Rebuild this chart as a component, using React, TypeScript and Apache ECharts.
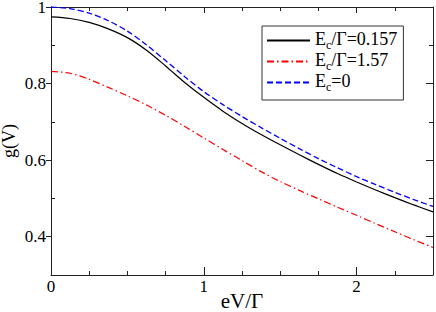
import React, { useEffect, useRef } from "react";
import * as echarts from "echarts";

// eV/Γ sample points
const eV = [0, 0.125, 0.25, 0.375, 0.5, 0.625, 0.75, 0.875, 1.0, 1.125, 1.25, 1.375, 1.5, 1.625, 1.75, 1.875, 2.0, 2.125, 2.25, 2.375, 2.5];
// g(V) for Ec/Γ = 0.157 (black solid)
const gEc0157 = [0.974, 0.970, 0.960, 0.943, 0.920, 0.887, 0.846, 0.803, 0.764, 0.728, 0.696, 0.667, 0.640, 0.614, 0.589, 0.565, 0.543, 0.522, 0.502, 0.483, 0.465];
// g(V) for Ec/Γ = 1.57 (red dash-dot)
const gEc157 = [0.832, 0.827, 0.811, 0.790, 0.768, 0.744, 0.717, 0.688, 0.658, 0.628, 0.599, 0.570, 0.544, 0.521, 0.499, 0.477, 0.456, 0.434, 0.413, 0.392, 0.372];
// g(V) for Ec = 0 (blue dashed)
const gEc0 = [1.000, 0.996, 0.984, 0.964, 0.937, 0.901, 0.860, 0.818, 0.779, 0.745, 0.714, 0.685, 0.657, 0.630, 0.604, 0.580, 0.557, 0.536, 0.516, 0.497, 0.479];

const seriesNames = ["Ec/Γ=0.157", "Ec/Γ=1.57", "Ec=0"];
const legendParts = [
  ["E", "c", "/Γ=0.157"],
  ["E", "c", "/Γ=1.57"],
  ["E", "c", "=0"],
];

const xLabelValues = [0, 1, 2];
const xMinorValues = [0.25, 0.5, 0.75, 1.25, 1.5, 1.75, 2.25];
const yLabelValues = [0.4, 0.6, 0.8, 1];
const yMinorValues = [0.5, 0.7, 0.9];

const FONT = "Liberation Serif";
const AXIS_COLOR = "#222";

export default function App() {
  const ref = useRef<HTMLDivElement>(null);

  useEffect(() => {
    if (!ref.current) return;
    const chart = echarts.init(ref.current, undefined, { renderer: "svg" });

    const lineStyle = { color: AXIS_COLOR, width: 1 };
    const xBase = {
      type: "value" as const,
      min: 0,
      max: 2.5,
      splitLine: { show: false },
    };
    const yBase = {
      type: "value" as const,
      min: 0.3,
      max: 1,
      splitLine: { show: false },
    };

    const mk = (vals: number[]) => eV.map((x, i) => [x, vals[i]]);

    chart.setOption({
      animation: false,
      backgroundColor: "#fff",
      grid: {
        left: 51,
        top: 7,
        right: 3,
        bottom: 37,
        containLabel: false,
        outerBoundsMode: "none",
      },
      xAxis: [
        {
          ...xBase,
          position: "bottom",
          axisLine: { show: true, onZero: false, lineStyle },
          axisTick: { show: true, inside: true, length: 4, customValues: xMinorValues, lineStyle },
          axisLabel: {
            show: true,
            customValues: xLabelValues,
            margin: 3,
            fontSize: 17,
            fontFamily: FONT,
            color: "#000",
            formatter: (v: number) => String(v),
          },
          name: "eV/Γ",
          nameLocation: "middle",
          nameGap: 15,
          nameMoveOverlap: false,
          nameTextStyle: { fontSize: 21, fontFamily: FONT, color: "#000" },
        },
        {
          ...xBase,
          position: "bottom",
          axisLine: { show: false, onZero: false },
          axisTick: { show: true, inside: true, length: 8, customValues: xLabelValues, lineStyle },
          axisLabel: { show: false },
        },
        {
          ...xBase,
          position: "top",
          axisLine: { show: true, onZero: false, lineStyle },
          axisTick: { show: true, inside: true, length: 4, customValues: xMinorValues, lineStyle },
          axisLabel: { show: false },
        },
        {
          ...xBase,
          position: "top",
          axisLine: { show: false, onZero: false },
          axisTick: { show: true, inside: true, length: 6, customValues: xLabelValues, lineStyle },
          axisLabel: { show: false },
        },
      ],
      yAxis: [
        {
          ...yBase,
          position: "left",
          axisLine: { show: true, onZero: false, lineStyle },
          axisTick: { show: true, inside: true, length: 4, customValues: yMinorValues, lineStyle },
          axisLabel: {
            show: true,
            customValues: yLabelValues,
            margin: 5,
            fontSize: 17,
            fontFamily: FONT,
            color: "#000",
            formatter: (v: number) => String(Math.round(v * 10) / 10),
          },
          name: "g(V)",
          nameLocation: "middle",
          nameGap: 33,
          nameRotate: 90,
          nameMoveOverlap: false,
          nameTextStyle: { fontSize: 18, fontFamily: FONT, color: "#000" },
        },
        {
          ...yBase,
          position: "left",
          axisLine: { show: false, onZero: false },
          axisTick: { show: true, inside: false, length: 5, customValues: yLabelValues, lineStyle },
          axisLabel: { show: false },
        },
        {
          ...yBase,
          position: "right",
          axisLine: { show: true, onZero: false, lineStyle },
          axisTick: { show: true, inside: true, length: 4, customValues: yMinorValues, lineStyle },
          axisLabel: { show: false },
        },
        {
          ...yBase,
          position: "right",
          axisLine: { show: false, onZero: false },
          axisTick: { show: true, inside: true, length: 7, customValues: yLabelValues, lineStyle },
          axisLabel: { show: false },
        },
      ],
      legend: {
        data: seriesNames,
        orient: "vertical",
        left: 262,
        top: 26,
        backgroundColor: "#fff",
        borderColor: "#333",
        borderWidth: 1,
        borderRadius: 0,
        padding: [4, 6, 7, 4],
        itemWidth: 43,
        itemHeight: 12,
        itemGap: 0,
        selectedMode: false,
        itemStyle: { opacity: 0, borderWidth: 0 },
        formatter: (name: string) => {
          const i = seriesNames.indexOf(name);
          const p = legendParts[i];
          return `{m|${p[0]}}{s|${p[1]}}{m|${p[2]}}`;
        },
        textStyle: {
          color: "#000",
          fontFamily: FONT,
          fontSize: 18,
          rich: {
            m: { fontSize: 18, fontFamily: FONT, color: "#000", lineHeight: 21, verticalAlign: "top" },
            s: { fontSize: 12, fontFamily: FONT, color: "#000", lineHeight: 10, verticalAlign: "bottom" },
          },
        },
      },
      series: [
        {
          name: seriesNames[0],
          type: "line",
          data: mk(gEc0157),
          smooth: 0.3,
          symbol: "none",
          showSymbol: false,
          color: "#000000",
          lineStyle: { color: "#000000", width: 1.2, type: "solid" },
          xAxisIndex: 0,
          yAxisIndex: 0,
        },
        {
          name: seriesNames[1],
          type: "line",
          data: mk(gEc157),
          smooth: 0.3,
          symbol: "none",
          showSymbol: false,
          color: "#ff0000",
          lineStyle: { color: "#ff0000", width: 1.2, type: [7, 3, 1.5, 3] },
          xAxisIndex: 0,
          yAxisIndex: 0,
        },
        {
          name: seriesNames[2],
          type: "line",
          data: mk(gEc0),
          smooth: 0.3,
          symbol: "none",
          showSymbol: false,
          color: "#0000ff",
          lineStyle: { color: "#0000ff", width: 1.3, type: [6, 3] },
          xAxisIndex: 0,
          yAxisIndex: 0,
        },
      ],
    });

    return () => chart.dispose();
  }, []);

  return (
    <div
      ref={ref}
      style={{ position: "absolute", left: 0, top: 0, width: 436, height: 312 }}
    />
  );
}
